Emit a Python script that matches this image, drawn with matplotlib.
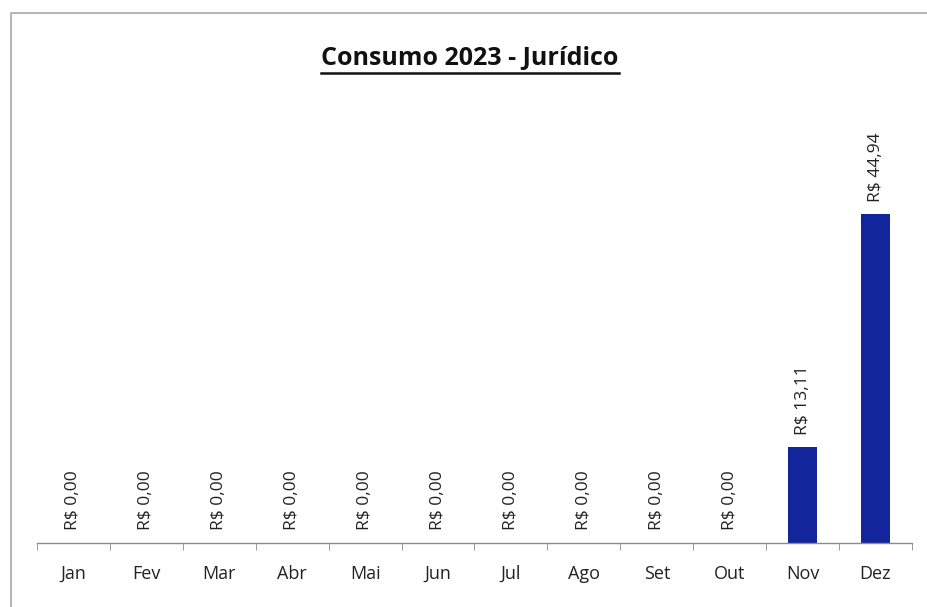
import numpy as np
import matplotlib as mpl
import matplotlib.pyplot as plt

plt.rcParams['font.family'] = ['Open Sans', 'DejaVu Sans']

# Data
meses = ['Jan', 'Fev', 'Mar', 'Abr', 'Mai', 'Jun', 'Jul', 'Ago', 'Set', 'Out', 'Nov', 'Dez']
valores = [0.00, 0.00, 0.00, 0.00, 0.00, 0.00, 0.00, 0.00, 0.00, 0.00, 13.11, 44.94]

clr_bar = '#13259b'
clr_axis = '#8c8c8c'

W, H = 928, 607
fig = plt.figure(figsize=(W/100, H/100), dpi=100)
ax = fig.add_axes([37/W, 1-543/H, (912-37)/W, (543-104)/H])

x = np.arange(len(meses))
ax.bar(x, valores, width=0.4, color=clr_bar, zorder=2)

for xi, v in zip(x, valores):
    lbl = 'R$ ' + f'{v:.2f}'.replace('.', ',')
    ax.annotate(lbl, (xi, v), xytext=(0, 9), textcoords='offset points',
                rotation=90, ha='center', va='bottom', fontsize=12.5, color='#222222')

ax.set_xlim(-0.5, 11.5)
ax.set_ylim(0, 60)
ax.set_yticks([])
for s in ['left', 'right', 'top']:
    ax.spines[s].set_visible(False)
ax.spines['bottom'].set_color(clr_axis)
ax.spines['bottom'].set_linewidth(1.0)
ax.set_xticks(x)
ax.set_xticklabels(meses, fontsize=13, color='#222222')
ax.tick_params(axis='x', which='major', length=0, pad=16)
ax.xaxis.set_minor_locator(mpl.ticker.FixedLocator(np.arange(-0.5, 12, 1)))
ax.tick_params(axis='x', which='minor', length=5, color=clr_axis, direction='out')

# Title with underline
t = fig.text(470/W, 1-58/H, 'Consumo 2023 - Jurídico', ha='center', va='center',
             fontsize=18, fontweight='bold', color='#111111')
fig.canvas.draw()
bb = t.get_window_extent().transformed(fig.transFigure.inverted())
fig.add_artist(mpl.lines.Line2D([bb.x0, bb.x1], [1-73/H, 1-73/H], color='#111111', lw=1.8))

# Chart frame (left and top edges visible)
fig.add_artist(mpl.lines.Line2D([11/W, 11/W, 1.0], [0.0, 1-13/H, 1-13/H], color='#a8a8a8', lw=1.2))

fig.savefig('out.png', dpi=100)
